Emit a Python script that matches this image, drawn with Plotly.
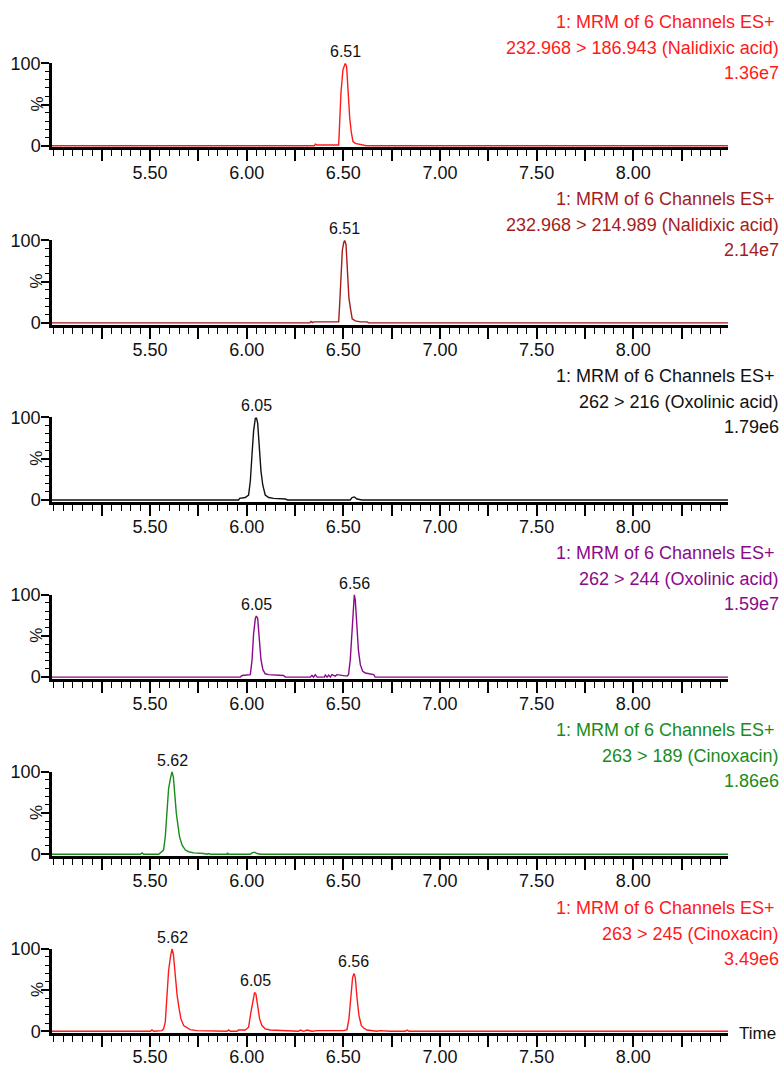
import plotly.graph_objects as go

# ---------------- data ----------------
t1 = [4.993, 6.350, 6.355, 6.360, 6.364, 6.476, 6.481, 6.488, 6.498, 6.505, 6.510, 6.517, 6.524, 6.533, 6.541, 6.550, 6.562, 6.588, 6.614, 6.619, 8.49]
y1 = [0, 0, 2.0, 1.0, 1.0, 1.0, 25, 65, 92, 98, 100, 96, 67, 34, 17, 5, 3, 1.6, 1.0, 0, 0]

t2 = [4.993, 6.326, 6.333, 6.340, 6.347, 6.476, 6.481, 6.488, 6.495, 6.502, 6.507, 6.514, 6.521, 6.529, 6.538, 6.546, 6.562, 6.588, 6.623, 6.631, 8.49]
y2 = [0, 0, 1.7, 0.4, 1.2, 1.2, 22, 63, 88, 97, 100, 95, 68, 30, 16, 5, 2.5, 1.2, 1.2, 0, 0]

t3 = [4.993, 5.958, 5.964, 5.993, 6.010, 6.019, 6.028, 6.036, 6.045, 6.050, 6.057, 6.065, 6.074, 6.083, 6.096, 6.114, 6.139, 6.200, 6.212, 6.536, 6.545, 6.557, 6.571, 6.597, 8.49]
y3 = [0, 0, 2, 3, 6, 23, 56, 84, 99, 100, 93, 64, 35, 18.5, 6, 3, 2, 1.2, 0, 0, 3, 3.7, 1.2, 0, 0]

t4 = [4.993, 5.967, 5.976, 6.019, 6.028, 6.036, 6.045, 6.050, 6.057, 6.065,
      6.074, 6.084, 6.096, 6.114, 6.191, 6.200, 6.329, 6.338, 6.346, 6.355,
      6.364, 6.402, 6.407, 6.416, 6.424, 6.433, 6.441, 6.459, 6.467, 6.519,
      6.527, 6.536, 6.545, 6.552, 6.557, 6.562, 6.569, 6.578, 6.588, 6.600,
      6.614, 6.640, 6.657, 6.665, 8.49]
y4 = [0, 0, 2, 3, 21, 53, 71, 74, 71, 45,
      21, 9, 4, 3, 2, 0, 0, 2, 0, 3,
      0, 0, 2.4, 0, 2.4, 0, 3, 1.2, 3, 1.2,
      3, 21, 61, 93, 100, 93, 61, 33, 15, 7,
      5, 4, 3, 0, 0]

t5 = [4.993, 5.450, 5.459, 5.467, 5.545, 5.553, 5.570, 5.579, 5.588, 5.596,
      5.605, 5.614, 5.621, 5.627, 5.636, 5.645, 5.653, 5.666, 5.683, 5.700,
      5.726, 5.777, 5.795, 5.803, 5.812, 5.898, 5.901, 5.905, 6.019, 6.028,
      6.040, 6.054, 6.071, 8.49]
y5 = [0, 0, 1.6, 0, 0, 1.6, 5, 21, 54, 79,
      91, 100, 93, 73, 50, 34, 21, 11, 5, 3,
      1.6, 0.8, 0, 0.8, 0, 0, 1.6, 0, 0, 1.6,
      2.5, 0.8, 0, 0]

t6 = [4.993, 5.502, 5.510, 5.519, 5.562, 5.570, 5.579, 5.588, 5.596, 5.605,
      5.614, 5.621, 5.629, 5.640, 5.650, 5.660, 5.674, 5.691, 5.708, 5.743,
      5.864, 5.872, 5.898, 5.907, 5.915, 5.950, 5.958, 5.993, 6.010, 6.022,
      6.033, 6.041, 6.048, 6.057, 6.067, 6.079, 6.096, 6.122, 6.226, 6.235,
      6.269, 6.278, 6.295, 6.312, 6.338, 6.364, 6.502, 6.519, 6.529, 6.540,
      6.548, 6.555, 6.562, 6.571, 6.581, 6.593, 6.605, 6.622, 6.665, 6.674,
      6.691, 6.743, 6.820, 6.830, 6.840, 8.49]
y6 = [0, 0, 1.6, 0, 0.8, 3, 11, 44, 73, 89,
      100, 93, 69, 44, 28, 15, 7, 4, 2, 0.8,
      0.8, 0, 0, 1.6, 0, 0, 1.6, 1.6, 5, 23,
      40, 47, 45, 28, 15, 7, 3, 1.6, 0.8, 0,
      0, 1.6, 0, 1.6, 0, 0.8, 0.8, 2, 15, 44,
      65, 70, 65, 40, 19, 7, 4, 1.6, 0.8, 0,
      0.8, 0, 0, 1.5, 0, 0]

times = [t1, t2, t3, t4, t5, t6]
intens = [y1, y2, y3, y4, y5, y6]

channel_titles = ["232.968 > 186.943 (Nalidixic acid)",
                  "232.968 > 214.989 (Nalidixic acid)",
                  "262 > 216 (Oxolinic acid)",
                  "262 > 244 (Oxolinic acid)",
                  "263 > 189 (Cinoxacin)",
                  "263 > 245 (Cinoxacin)"]
max_intensity = ["1.36e7", "2.14e7", "1.79e6", "1.59e7", "1.86e6", "3.49e6"]
header_line = "1: MRM of 6 Channels ES+"

peak_labels = [
    [("6.51", 6.510, 100)],
    [("6.51", 6.507, 100)],
    [("6.05", 6.050, 100)],
    [("6.05", 6.050, 74), ("6.56", 6.557, 100)],
    [("5.62", 5.614, 100)],
    [("5.62", 5.614, 100), ("6.05", 6.045, 47), ("6.56", 6.555, 70)],
]

colors = ["#ff1a1a", "#a31d1d", "#111111", "#8a0a8a", "#1a8c1a", "#ff1a1a"]

x_major = [5.25, 5.50, 5.75, 6.00, 6.25, 6.50, 6.75, 7.00, 7.25, 7.50, 7.75, 8.00, 8.25]
x_major_text = ["", "5.50", "", "6.00", "", "6.50", "", "7.00", "", "7.50", "", "8.00", ""]
x_range = [4.993, 8.49]

# ---------------- layout helpers ----------------
W, H = 784, 1066
L, R = 52, 56
PW = W - L - R
FONT = "Liberation Sans, Arial, sans-serif"


def fx(px):
    return (px - L) / PW


def fy(py):
    return 1 - py / H


fig = go.Figure()
layout = dict(width=W, height=H, autosize=False, margin=dict(l=L, r=R, t=0, b=0, pad=0),
              paper_bgcolor="white", plot_bgcolor="white", showlegend=False,
              font=dict(family=FONT, size=18, color="#111111"))
annotations = []

for k in range(6):
    zero_px = 145.8 + 177.1 * k
    top_px = 63.2 + 177.1 * k
    sc = (zero_px - top_px) / 100.0
    bot_px = zero_px + 2 * sc
    sfx = "" if k == 0 else str(k + 1)
    fig.add_trace(go.Scatter(x=times[k], y=intens[k], mode="lines",
                             line=dict(color=colors[k], width=1.4),
                             xaxis="x" + sfx, yaxis="y" + sfx,
                             cliponaxis=False, hoverinfo="skip"))
    layout["xaxis" + sfx] = dict(
        anchor="y" + sfx, domain=[0, 1], range=x_range, automargin=False,
        showline=True, linewidth=3, linecolor="black", layer="below traces",
        ticks="outside", ticklen=11, tickwidth=1.5, tickcolor="black",
        tickvals=x_major, ticktext=x_major_text,
        ticklabelstandoff=(-4 if k < 5 else -6),
        minor=dict(dtick=0.05, tick0=5.0, ticklen=6, tickwidth=1.3,
                   ticks="outside", tickcolor="black", showgrid=False),
        showgrid=False, zeroline=False,
        tickfont=dict(family=FONT, size=18, color="#111111"))
    layout["yaxis" + sfx] = dict(
        anchor="x" + sfx, domain=[fy(bot_px), fy(top_px)], range=[-2, 100],
        automargin=False,
        showline=True, linewidth=2.5, linecolor="black",
        ticks="outside", ticklen=8, tickwidth=1.5, tickcolor="black",
        tickvals=[0, 50, 100], ticktext=["0", "", "100"], ticklabelstandoff=-3,
        minor=dict(dtick=10, tick0=0, ticklen=4, tickwidth=1.2,
                   ticks="outside", tickcolor="black", showgrid=False),
        showgrid=False, zeroline=False,
        tickfont=dict(family=FONT, size=18, color="#111111"))
    # "%" label
    annotations.append(dict(xref="paper", yref="paper", x=fx(37), y=fy(zero_px - 50 * sc),
                            text="%", textangle=-90, showarrow=False,
                            font=dict(family=FONT, size=17, color="#111111"),
                            xanchor="center", yanchor="middle"))
    # header
    base = 177.1 * k
    for txt, py, rx in [(header_line, 22, 777), (channel_titles[k], 48, 781),
                        (max_intensity[k], 73, 781)]:
        annotations.append(dict(xref="paper", yref="paper", x=fx(rx), y=fy(py + base),
                                text=txt, showarrow=False, xanchor="right", yanchor="middle",
                                font=dict(family=FONT, size=18, color=colors[k])))
    # peak labels
    for txt, tx, ty in peak_labels[k]:
        annotations.append(dict(xref="x" + sfx, yref="y" + sfx, x=tx, y=ty,
                                text=txt, showarrow=False, xanchor="center", yanchor="bottom",
                                yshift=1, font=dict(family=FONT, size=16, color="#111111")))

annotations.append(dict(xref="paper", yref="paper", x=fx(737), y=fy(1033),
                        text="Time", showarrow=False, xanchor="left", yanchor="middle",
                        font=dict(family=FONT, size=17, color="#111111")))

layout["annotations"] = annotations
fig.update_layout(**layout)
fig.write_html("out.html", config={"displayModeBar": False},
               post_script="document.body.style.margin='0';")
